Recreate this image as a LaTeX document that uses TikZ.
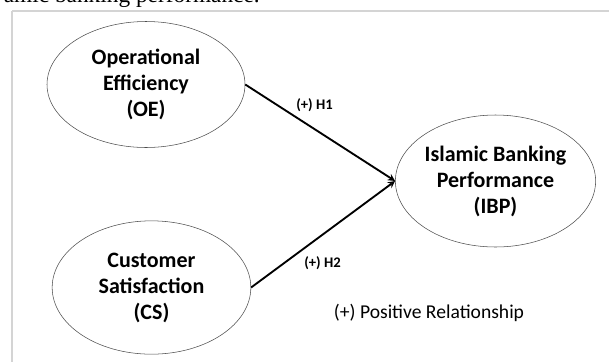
\documentclass[tikz,border=0pt]{standalone}
\usepackage{fontspec}
\setmainfont{Carlito}
\newfontfamily\capfont{Liberation Serif}
\usepackage{tikz}
\usetikzlibrary{shapes.geometric, arrows}
\tikzstyle{construct} = [ellipse, 
draw=black!70, 
thin, 
inner sep=0pt, 
align=center, 
font=\fontsize{16.5}{19.5}\selectfont\bfseries]
\tikzstyle{hyplabel} = [font=\fontsize{11}{13}\selectfont\bfseries]
\tikzstyle{arrow} = [line width=1.4pt,->,>=stealth]
\tikzstyle{frame} = [draw=black!17, line width=1.2pt]

\begin{document}
\begin{tikzpicture}[x=0.75pt, y=-0.75pt]
    \useasboundingbox (0,0) rectangle (609,361);

    % caption text cut off at the top
    \node (cap) [anchor=base east, inner sep=0pt, font=\capfont\fontsize{17.5}{20}\selectfont] at (260,2) {amic banking performance.};
    \draw [frame] (12,11) -- (620,11);
    \draw [frame] (12,11) -- (12,370);

    \node (oe) [construct, minimum width=148.5pt, minimum height=94.5pt] at (146,84.5) {Operational\\Efficiency\\(OE)};
    \node (cs) [construct, minimum width=149pt, minimum height=100pt] at (151.5,287.5) {Customer\\Satisfaction\\(CS)};
    \node (ibp) [construct, minimum width=148pt, minimum height=99pt] at (495.5,181) {Islamic Banking\\Performance\\(IBP)};

    % hypotheses
    \draw [arrow] (oe.east) -- (ibp.west);
    \draw [arrow] (cs.east) -- (ibp.west);

    \node (h1) [hyplabel] at (314.5,105) {(+) H1};
    \node (h2) [hyplabel] at (322.5,263) {(+) H2};
    \node (note) [font=\fontsize{14.7}{17}\selectfont] at (429,313) {(+) Positive Relationship};
  \end{tikzpicture}
\end{document}
